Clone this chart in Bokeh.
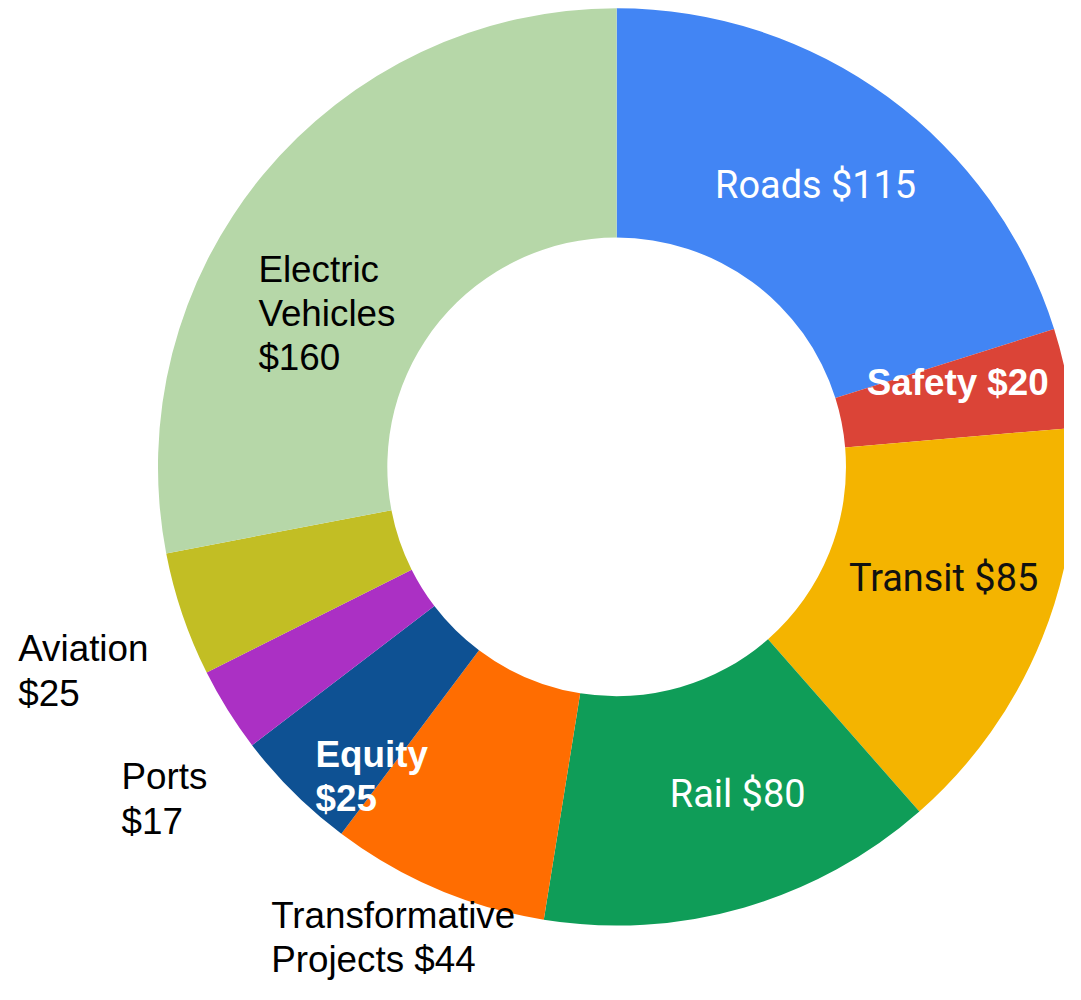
import math
from bokeh.plotting import figure
from bokeh.models import ColumnDataSource, Range1d
from bokeh.core.properties import value
from bokeh.embed import file_html
from bokeh.resources import INLINE

# ---- data ----
categories = ["Roads", "Safety", "Transit", "Rail", "Transformative Projects",
              "Equity", "Ports", "Aviation", "Electric Vehicles"]
amounts = [115, 20, 85, 80, 44, 25, 17, 25, 160]
colors = ["#4285F4", "#DB4437", "#F4B400", "#0F9D58", "#FF6D01",
          "#0E5193", "#AB30C4", "#C2BE24", "#B6D7A8"]

# ---- layout (in reference-image pixels; whole view scaled to fit window) ----
REF_W, REF_H = 1081, 1000
S = 0.984
W, H = round(REF_W * S), round(REF_H * S)
CX, CY = 626, 474          # donut centre in reference pixels
R_OUT, R_IN = 466, 233

total = float(sum(amounts))
starts, ends = [], []
cum = 0.0
for a in amounts:
    a0 = cum / total * 2 * math.pi
    cum += a
    a1 = cum / total * 2 * math.pi
    starts.append(math.pi / 2 - a1)
    ends.append(math.pi / 2 - a0)

src = ColumnDataSource(dict(cat=categories, amt=amounts, color=colors,
                            start=starts, end=ends))

p = figure(width=W, height=H, output_backend="svg", toolbar_location=None,
           x_range=Range1d(-CX, REF_W - CX), y_range=Range1d(CY - REF_H, CY),
           min_border=0, outline_line_color=None)
p.axis.visible = False
p.grid.visible = False
p.background_fill_color = "white"
p.border_fill_color = "white"

p.annular_wedge(x=0, y=0, inner_radius=R_IN, outer_radius=R_OUT,
                start_angle="start", end_angle="end", direction="anticlock",
                color="color", line_color=None, source=src)

LS = 45
ROB, ARI = 38.5, 37.4
labels = [
    (["Roads $115"], 726, 187, "Roboto", "normal", "white", ROB),
    (["Safety $20"], 880, 388, "Liberation Sans", "bold", "white", ARI),
    (["Transit $85"], 862, 587, "Roboto", "normal", "#111111", ROB),
    (["Rail $80"], 680, 806, "Roboto", "normal", "white", ROB),
    (["Transformative", "Projects $44"], 275, 930, "Liberation Sans", "normal", "black", ARI),
    (["Equity", "$25"], 320, 766, "Liberation Sans", "bold", "white", ARI),
    (["Ports", "$17"], 123, 789, "Liberation Sans", "normal", "black", ARI),
    (["Aviation", "$25"], 18, 659, "Liberation Sans", "normal", "black", ARI),
    (["Electric", "Vehicles", "$160"], 262, 273, "Liberation Sans", "normal", "black", ARI),
]

for lines, lx, ly, font, style, col, size in labels:
    for i, t in enumerate(lines):
        p.text(x=[lx - CX], y=[CY - (ly + i * LS)], text=[t],
               text_font=value(font), text_font_style=style,
               text_color=col, text_font_size=f"{size * S:.1f}px",
               text_align="left", text_baseline="middle")

open("out.html", "w").write(file_html(p, INLINE))
